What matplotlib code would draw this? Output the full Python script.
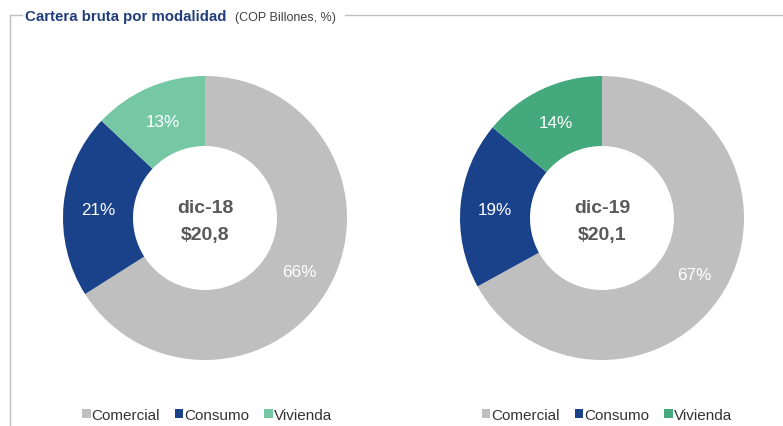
import matplotlib
matplotlib.use('Agg')

import matplotlib.pyplot as plt

plt.rcParams['font.family'] = ['Liberation Sans', 'DejaVu Sans']

categories = ['Comercial', 'Consumo', 'Vivienda']
periods = ['dic-18', 'dic-19']
totals = ['$20,8', '$20,1']
shares_18 = [66, 21, 13]
shares_19 = [67, 19, 14]

colors_18 = ['#bfbfbf', '#1a428a', '#76c8a4']
colors_19 = ['#bfbfbf', '#1a428a', '#45a97e']

W, H = 783, 427
fig = plt.figure(figsize=(W / 100, H / 100), dpi=100)
ax = fig.add_axes([0, 0, 1, 1])

def donut(shares, colors, cx, cy, period, total, legend_x):
    wedges, _, pcts = ax.pie(
        shares, colors=colors, center=(cx, H - cy), radius=142,
        startangle=90, counterclock=False,
        wedgeprops=dict(width=70, linewidth=0),
        autopct=lambda p: '{:.0f}%'.format(p), pctdistance=0.755,
        textprops=dict(color='white', fontsize=12.3))
    for t in pcts:
        t.set_va('center_baseline')
    ax.text(cx, H - cy + 10.5, period, ha='center', va='center',
            fontsize=14, fontweight='bold', color='#595959')
    ax.text(cx, H - cy - 16.5, total, ha='center', va='center',
            fontsize=14, fontweight='bold', color='#595959')
    leg = fig.legend(wedges, categories, loc='center', ncol=3,
                     bbox_to_anchor=(legend_x / W, (H - 416) / H),
                     frameon=False, fontsize=11, handlelength=0.55,
                     handleheight=0.55, handletextpad=0.05,
                     columnspacing=1.0, borderaxespad=0)
    for t in leg.get_texts():
        t.set_color('#333333')

donut(shares_18, colors_18, 205, 219, periods[0], totals[0], 207)
donut(shares_19, colors_19, 602, 219, periods[1], totals[1], 607)

# marco
frame = '#bfbfbf'
ax.plot([10, 10], [0, H - 16], color=frame, lw=1)
ax.plot([10, 22], [H - 16, H - 16], color=frame, lw=1)
ax.plot([345, 782], [H - 16, H - 16], color=frame, lw=1)

ax.text(25, H - 17, 'Cartera bruta por modalidad', ha='left', va='center',
        fontsize=10.8, fontweight='bold', color='#1f3e79')
ax.text(235, H - 17.5, '(COP Billones, %)', ha='left', va='center',
        fontsize=9, color='#404040')

ax.set_xlim(0, W)
ax.set_ylim(0, H)
ax.set_aspect('auto')
ax.axis('off')

fig.savefig('out.png', dpi=100)
